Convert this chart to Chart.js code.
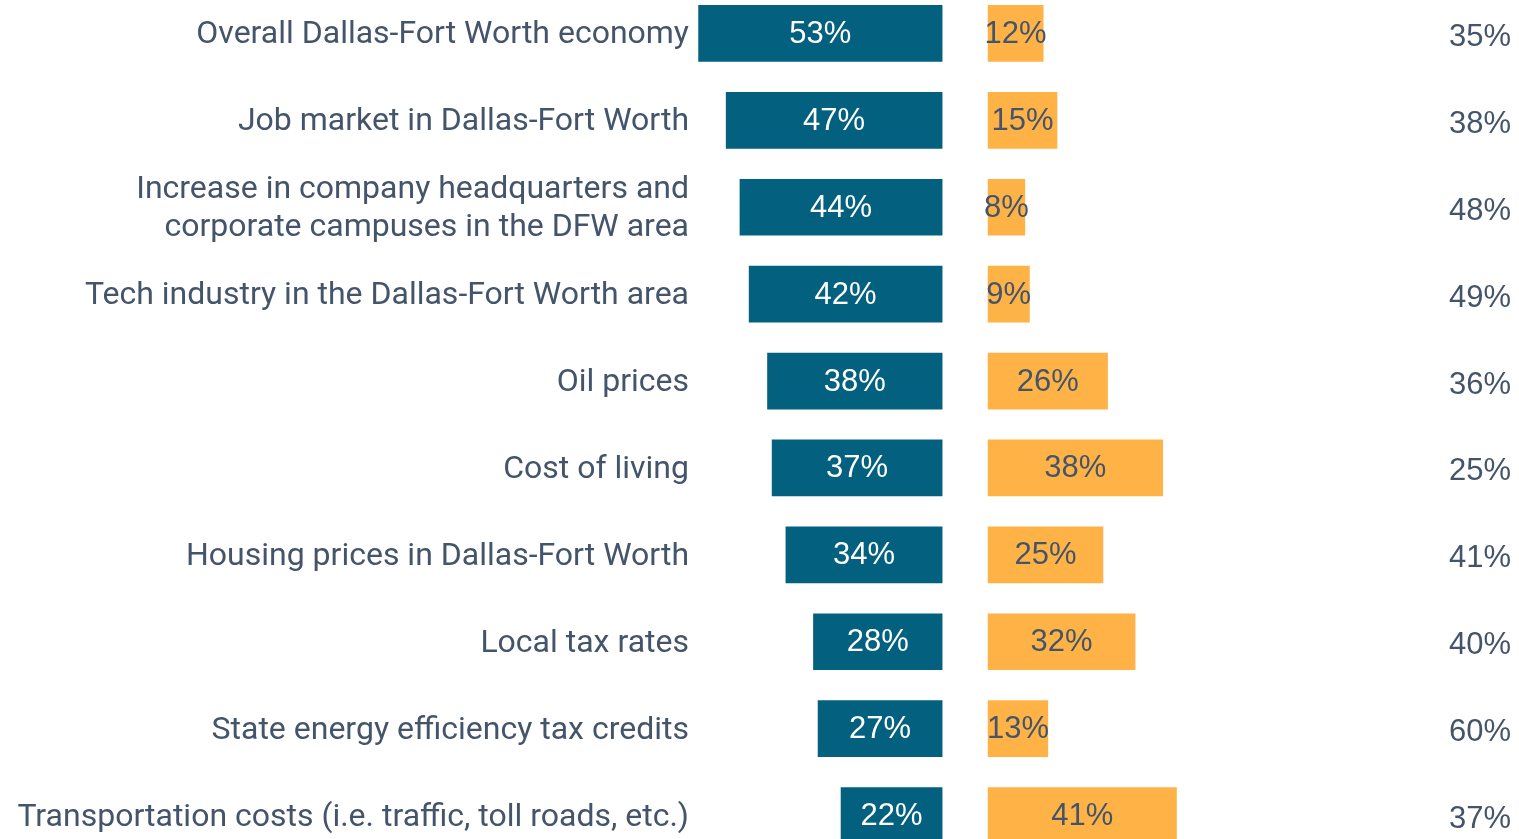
<!DOCTYPE html>
<html>
<head>
<meta charset="utf-8">
<script src="https://cdn.jsdelivr.net/npm/chart.js@4.4.1/dist/chart.umd.min.js"></script>
<style>
html,body{margin:0;padding:0;overflow:hidden;background:#fff;width:1519px;height:839px;}
#wrap{position:absolute;left:0;top:-10px;width:1519px;height:869px;}
</style>
</head>
<body>
<div id="wrap"><canvas id="c"></canvas></div>
<script>
const categories = [
  "Overall Dallas-Fort Worth economy",
  "Job market in Dallas-Fort Worth",
  ["Increase in company headquarters and", "corporate campuses in the DFW area"],
  "Tech industry in the Dallas-Fort Worth area",
  "Oil prices",
  "Cost of living",
  "Housing prices in Dallas-Fort Worth",
  "Local tax rates",
  "State energy efficiency tax credits",
  "Transportation costs (i.e. traffic, toll roads, etc.)"
];
const positiveValues = [53, 47, 44, 42, 38, 37, 34, 28, 27, 22];
const negativeValues = [12, 15, 8, 9, 26, 38, 25, 32, 13, 41];
const neutralValues  = [35, 38, 48, 49, 36, 25, 41, 40, 60, 37];
const neutralLabels = neutralValues.map(v => v + "%");

const GAP = 10;
const BLUE = "#03607F";
const ORANGE = "#FFB347";
const TEXT = "#44546A";

const labelPlugin = {
  id: "barLabels",
  afterDatasetsDraw(chart) {
    const ctx = chart.ctx;
    ctx.save();
    ctx.font = "31px 'Liberation Sans', Arial, sans-serif";
    ctx.textAlign = "center";
    ctx.textBaseline = "middle";
    chart.data.datasets.forEach((ds, di) => {
      const meta = chart.getDatasetMeta(di);
      meta.data.forEach((el, i) => {
        const src = di === 0 ? positiveValues : negativeValues;
        ctx.fillStyle = di === 0 ? "#ffffff" : TEXT;
        const cx = (el.x + el.base) / 2;
        ctx.fillText(src[i] + "%", cx, el.y + 1);
      });
    });
    ctx.restore();
  }
};

function fixY(width) {
  return function (s) {
    s.width = width;
    s.paddingTop = 0;
    s.paddingBottom = 0;
  };
}

new Chart(document.getElementById("c"), {
  type: "bar",
  data: {
    labels: categories,
    datasets: [
      {
        label: "Positive",
        data: positiveValues.map(v => [-v, 0]),
        backgroundColor: BLUE,
        grouped: false,
        barThickness: 56
      },
      {
        label: "Negative",
        data: negativeValues.map(v => [GAP, GAP + v]),
        backgroundColor: ORANGE,
        grouped: false,
        barThickness: 56
      }
    ]
  },
  options: {
    indexAxis: "y",
    responsive: true,
    maintainAspectRatio: false,
    animation: false,
    layout: { padding: { left: 0, right: 8, top: 0, bottom: 0 } },
    plugins: { legend: { display: false }, tooltip: { enabled: false } },
    scales: {
      x: { type: "linear", min: -54, max: 104, display: false },
      y: {
        type: "category",
        position: "left",
        grid: { display: false, drawTicks: false },
        border: { display: false },
        ticks: {
          color: TEXT,
          font: { family: "Roboto", size: 32, lineHeight: 1.2 },
          padding: 5,
          labelOffset: 2
        },
        afterFit: fixY(694)
      },
      y2: {
        type: "category",
        position: "right",
        labels: neutralLabels,
        grid: { display: false, drawTicks: false },
        border: { display: false },
        ticks: {
          color: TEXT,
          font: { family: "'Liberation Sans', Arial, sans-serif", size: 31 },
          crossAlign: "far",
          padding: 0,
          labelOffset: 4
        },
        afterFit: fixY(91)
      }
    }
  },
  plugins: [labelPlugin]
});
</script>
</body>
</html>
